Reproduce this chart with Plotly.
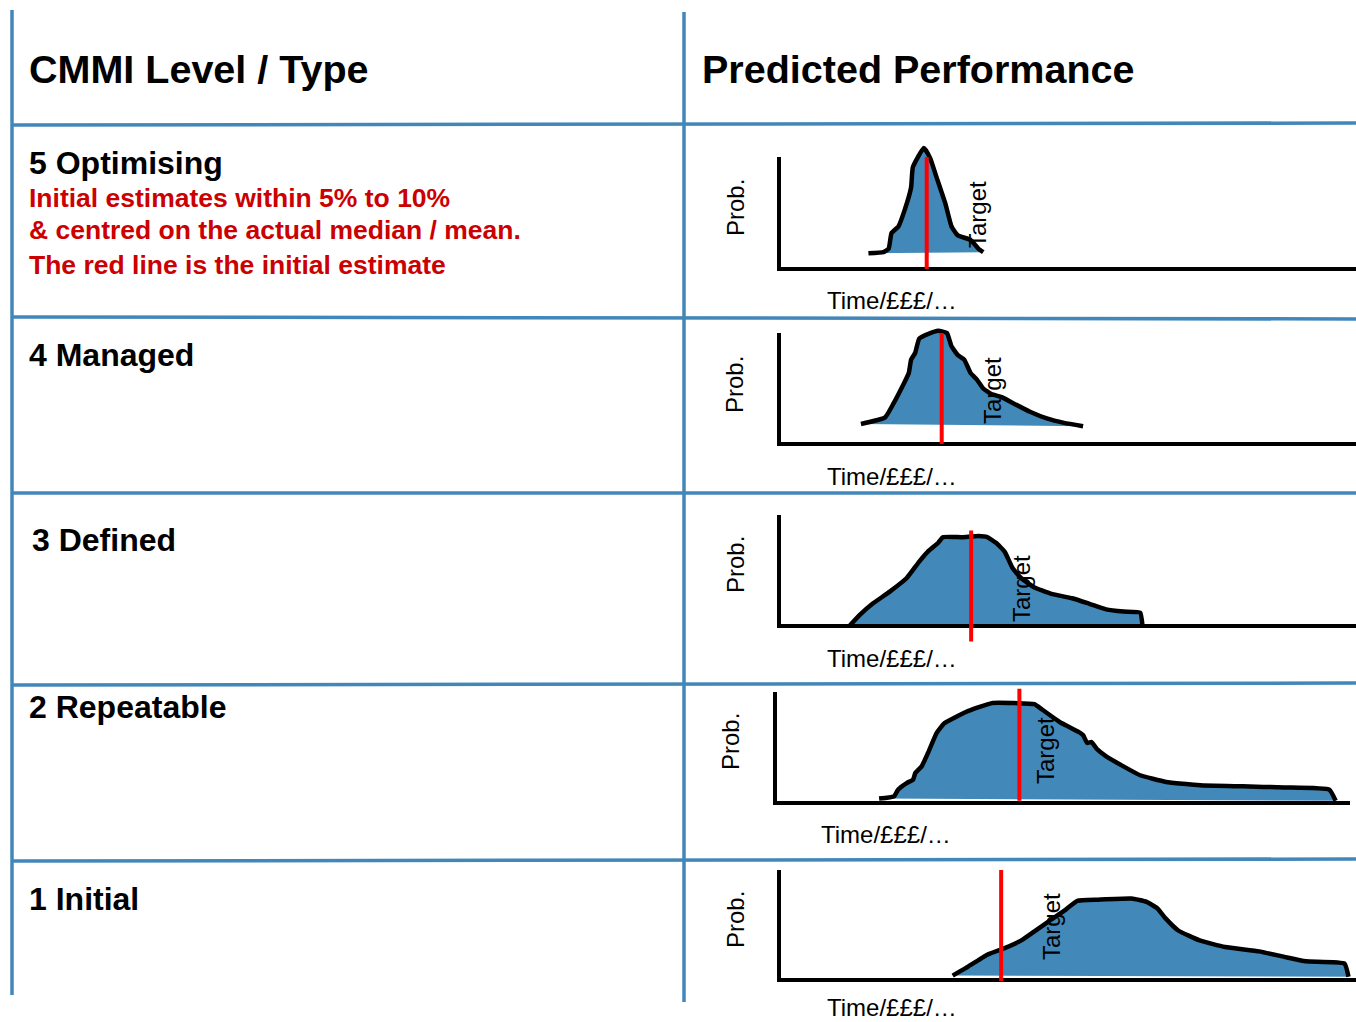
import plotly.graph_objects as go

# ---- figure size (px) ----
W, H = 1356, 1022

# ---- table text ----
header_left = "CMMI Level / Type"
header_right = "Predicted Performance"
levels = ["5 Optimising", "4 Managed", "3 Defined", "2 Repeatable", "1 Initial"]
level5_notes = [
    "Initial estimates within 5% to 10%",
    "& centred on the actual median / mean.",
    "The red line is the initial estimate",
]
y_label = "Prob."
x_label = "Time/£££/…"
target_label = "Target"

# ---- distribution outlines per level (x: time units 0-100, y: relative probability) ----
opt_x = [15.5, 18.1, 19.0, 19.5, 20.7, 21.8, 22.9, 23.2, 25.1, 26.2, 27.3, 28.8,
         29.9, 31.0, 33.2, 34.6, 35.4]
opt_y = [0.14, 0.15, 0.18, 0.32, 0.38, 0.53, 0.73, 0.91, 1.08, 0.99, 0.82, 0.59,
         0.38, 0.30, 0.26, 0.18, 0.15]
opt_estimate = 25.6

man_x = [14.2, 18.4, 19.9, 21.4, 22.5, 22.9, 23.6, 24.3, 25.8, 27.6, 29.1, 29.9,
         31.0, 32.1, 33.2, 34.3, 35.4, 36.8, 38.7, 40.5, 43.5, 46.4, 49.4, 52.7]
man_y = [0.18, 0.24, 0.37, 0.52, 0.64, 0.76, 0.82, 0.95, 0.99, 1.02, 1.00, 0.88,
         0.80, 0.76, 0.64, 0.58, 0.50, 0.45, 0.42, 0.37, 0.29, 0.23, 0.19, 0.16]
man_estimate = 28.2

def_x = [12.2, 14.0, 16.2, 19.2, 22.1, 24.3, 25.8, 27.6, 28.4, 31.7, 34.6, 36.1,
         37.6, 39.1, 40.5, 42.0, 44.2, 47.2, 50.8, 53.8, 56.7, 59.7, 62.6, 63.0]
def_y = [0.00, 0.10, 0.20, 0.31, 0.43, 0.58, 0.67, 0.75, 0.80, 0.80, 0.81, 0.80,
         0.75, 0.67, 0.52, 0.43, 0.35, 0.29, 0.25, 0.20, 0.15, 0.13, 0.12, 0.00]
def_estimate = 33.3

rep_x = [18.1, 20.7, 21.4, 22.9, 24.0, 24.4, 25.5, 26.6, 28.1, 29.5, 33.2, 37.7,
         41.4, 45.1, 46.5, 49.5, 52.8, 53.6, 54.3, 55.0, 56.1, 57.6, 60.6, 63.5,
         68.0, 73.9, 81.3, 88.6, 96.4, 97.5]
rep_y = [0.04, 0.06, 0.12, 0.18, 0.21, 0.27, 0.33, 0.45, 0.63, 0.72, 0.82, 0.90,
         0.90, 0.89, 0.84, 0.73, 0.64, 0.61, 0.54, 0.55, 0.48, 0.42, 0.33, 0.25,
         0.19, 0.16, 0.15, 0.14, 0.12, 0.02]
rep_estimate = 42.5

ini_x = [30.1, 32.4, 36.1, 39.1, 42.0, 44.2, 47.2, 49.7, 51.7, 55.3, 61.1, 63.7,
         65.6, 67.0, 69.2, 72.9, 77.3, 83.2, 87.6, 91.3, 98.0, 98.7]
ini_y = [0.04, 0.11, 0.23, 0.29, 0.36, 0.44, 0.55, 0.64, 0.72, 0.73, 0.74, 0.71,
         0.65, 0.56, 0.45, 0.36, 0.30, 0.26, 0.21, 0.17, 0.15, 0.03]
ini_estimate = 38.5

curves = [
    (opt_x, opt_y, opt_estimate),
    (man_x, man_y, man_estimate),
    (def_x, def_y, def_estimate),
    (rep_x, rep_y, rep_estimate),
    (ini_x, ini_y, ini_estimate),
]

# ---- styling ----
GRID = "#4287ba"
FILL = "#4289ba"
RED_TEXT = "#cc0000"
FONT = "Liberation Sans, Arial, sans-serif"

# panel geometry in pixels: axis origin x, x at 100 units, axis origin y, y at 1.0
panels = [
    dict(x0=779, x1=1356, y0=269, y1=157, est_span=(0.0, 1.0),
         prob=(735, 208), target=(977, 215), time=(825, 300)),
    dict(x0=779, x1=1356, y0=444, y1=333, est_span=(0.0, 1.0),
         prob=(735, 385), target=(992, 391), time=(825, 476)),
    dict(x0=779, x1=1356, y0=626, y1=515, est_span=(-0.14, 0.86),
         prob=(735, 565), target=(1021, 589), time=(825, 658)),
    dict(x0=775, x1=1350, y0=803, y1=692, est_span=(0.02, 1.03),
         prob=(730, 742), target=(1045, 751), time=(819, 834)),
    dict(x0=779, x1=1356, y0=980, y1=870, est_span=(-0.01, 1.0),
         prob=(735, 920), target=(1051, 927), time=(825, 1007)),
]


def fx(px):
    return px / W


def fy(py):
    return 1 - py / H


fig = go.Figure()
layout_axes = {}

for i, ((cx, cy, est), p) in enumerate(zip(curves, panels)):
    n = "" if i == 0 else str(i + 1)
    xa, ya = "x" + n, "y" + n
    sx = (p["x1"] - p["x0"]) / 100.0
    sy = (p["y0"] - p["y1"]) / 1.0
    x_lo = -3.0
    x_hi = (W - p["x0"]) / sx
    y_lo, y_hi = -0.22, 1.22
    layout_axes["xaxis" + n] = dict(
        domain=[fx(p["x0"] + x_lo * sx), 1.0], range=[x_lo, x_hi],
        visible=False, anchor=ya, fixedrange=True)
    layout_axes["yaxis" + n] = dict(
        domain=[fy(p["y0"] - y_lo * sy), fy(p["y0"] - y_hi * sy)],
        range=[y_lo, y_hi], visible=False, anchor=xa, fixedrange=True)

    # filled distribution
    fig.add_trace(go.Scatter(x=cx, y=cy, xaxis=xa, yaxis=ya, mode="none",
                             fill="toself", fillcolor=FILL, hoverinfo="skip",
                             showlegend=False))
    # outline
    fig.add_trace(go.Scatter(x=cx, y=cy, xaxis=xa, yaxis=ya, mode="lines",
                             line=dict(color="black", width=4.5, shape="spline",
                                       smoothing=0.4),
                             hoverinfo="skip", showlegend=False))
    # axes
    fig.add_trace(go.Scatter(x=[0, 0, 100], y=[1.0, 0, 0], xaxis=xa, yaxis=ya,
                             mode="lines", line=dict(color="black", width=4),
                             hoverinfo="skip", showlegend=False))
    # initial estimate
    fig.add_trace(go.Scatter(x=[est, est], y=list(p["est_span"]), xaxis=xa,
                             yaxis=ya, mode="lines",
                             line=dict(color="#ff0000", width=4),
                             hoverinfo="skip", showlegend=False))

annotations = []


def add_text(text, px, py, size, bold=False, color="black", angle=0,
             xanchor="left"):
    annotations.append(dict(
        text=("<b>%s</b>" % text) if bold else text,
        x=fx(px), y=fy(py), xref="paper", yref="paper",
        xanchor=xanchor, yanchor="middle", showarrow=False, textangle=angle,
        font=dict(family=FONT, size=size, color=color)))


# headers
add_text(header_left, 27, 69, 39.5, bold=True)
add_text(header_right, 700, 69, 39.5, bold=True)

# level names
level_pos = [(27, 163), (27, 355), (30, 540), (27, 707), (27, 899)]
for name, (lx, ly) in zip(levels, level_pos):
    add_text(name, lx, ly, 32, bold=True)

# notes for level 5
for note, ly in zip(level5_notes, [198, 230, 265]):
    add_text(note, 27, ly, 26.5, bold=True, color=RED_TEXT)

# panel labels
for p in panels:
    add_text(y_label, p["prob"][0], p["prob"][1], 24, angle=-90, xanchor="center")
    add_text(target_label, p["target"][0], p["target"][1], 24, angle=-90,
             xanchor="center")
    add_text(x_label, p["time"][0], p["time"][1], 24)

# table grid
shapes = []


def grid_line(xa_, ya_, xb_, yb_):
    shapes.append(dict(type="line", xref="paper", yref="paper",
                       x0=fx(xa_), y0=fy(ya_), x1=fx(xb_), y1=fy(yb_),
                       line=dict(color=GRID, width=3.5)))


grid_line(12, 10, 12, 995)
grid_line(684, 12, 684, 1002)
for yl, yr in [(125, 123), (317, 319), (493, 493), (685, 683), (861, 859)]:
    grid_line(12, yl, 1356, yr)

fig.update_layout(
    width=W, height=H, autosize=False,
    margin=dict(l=0, r=0, t=0, b=0, pad=0),
    paper_bgcolor="white", plot_bgcolor="rgba(0,0,0,0)",
    showlegend=False, annotations=annotations, shapes=shapes,
    **layout_axes,
)

fig.write_html("out.html", config=dict(displayModeBar=False, staticPlot=True))
